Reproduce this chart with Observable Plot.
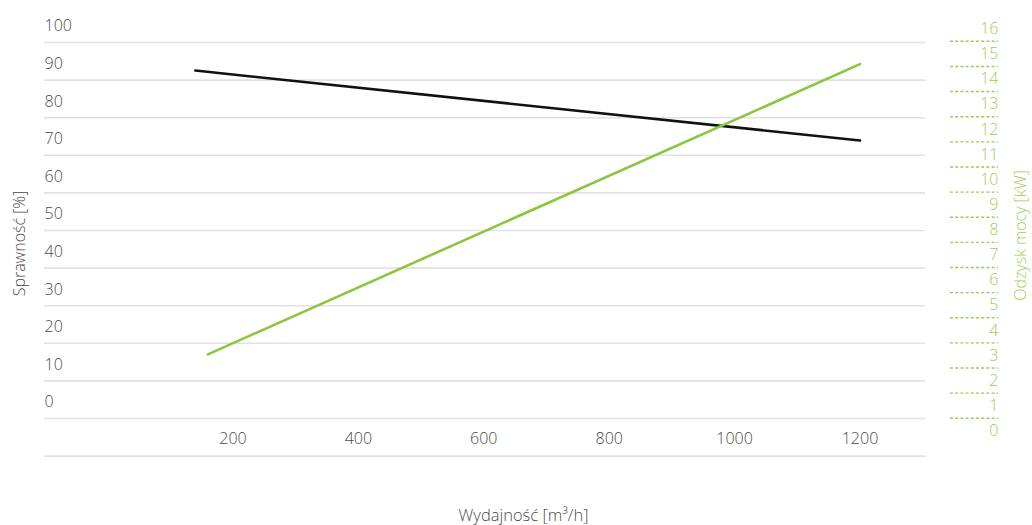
<!DOCTYPE html>
<html><head><meta charset="utf-8">
<script src="https://cdn.jsdelivr.net/npm/d3@7"></script>
<script src="https://cdn.jsdelivr.net/npm/@observablehq/plot@0.6"></script>
<style>html,body{margin:0;padding:0;background:#fff}</style>
</head><body><div id="chart"></div>
<script>
// Data
const flowEff = [140, 1200];          // Wydajność [m³/h] for efficiency line
const efficiency = [88.2, 69.6];      // Sprawność [%]
const flowPower = [160, 1200];        // Wydajność [m³/h] for power line
const power = [3.05, 14.6];           // Odzysk mocy [kW]
const xTicks = [200, 400, 600, 800, 1000, 1200];
const leftTicks = [0, 10, 20, 30, 40, 50, 60, 70, 80, 90, 100];
const rightTicks = [0, 1, 2, 3, 4, 5, 6, 7, 8, 9, 10, 11, 12, 13, 14, 15, 16];
const gridTicks = [-10, 0, 10, 20, 30, 40, 50, 60, 70, 80, 90, 100];

const GRAY = "#4a4a4a";
const GREEN_LINE = "#8cc63f";
const GREEN_TEXT = "#9fcc52";

// right axis (kW) expressed on the left (%) scale
const kw = d3.scaleLinear().domain([0, 16]).range([-7.66, 99.28]);

const effData = flowEff.map((x, i) => ({x, y: efficiency[i]}));
const powData = flowPower.map((x, i) => ({x, y: kw(power[i])}));

const chart = Plot.plot({
  width: 1032,
  height: 525,
  margin: 0,
  x: {domain: [0, 1200], range: [107.1, 859.5], axis: null},
  y: {domain: [0, 100], range: [401.7, 25.7], axis: null},
  style: {fontFamily: "'Open Sans', sans-serif", fontSize: "16px", fontWeight: 300, background: "#fff", color: GRAY},
  marks: [
    Plot.ruleY(gridTicks, {y: d => d, dy: 16.3, insetLeft: 44, insetRight: 107, stroke: "#e2e2e2", strokeWidth: 1.6}),
    Plot.ruleY(rightTicks.filter(k => k > 0), {y: k => kw(k), dy: 12.4, insetLeft: 950, insetRight: 34, stroke: GREEN_TEXT, strokeWidth: 1.4, strokeDasharray: "3,2.2"}),
    Plot.text(leftTicks, {y: d => d, text: d => String(d), frameAnchor: "left", dx: 44, textAnchor: "start", lineAnchor: "middle", fill: GRAY}),
    Plot.text(rightTicks, {y: k => kw(k), text: k => String(k), frameAnchor: "right", dx: -34, textAnchor: "end", lineAnchor: "middle", fill: GREEN_TEXT}),
    Plot.text(xTicks, {x: d => d, text: d => String(d), frameAnchor: "top", dy: 438, lineAnchor: "middle", fill: GRAY}),
    Plot.line(effData, {x: "x", y: "y", stroke: "#111", strokeWidth: 2.6}),
    Plot.line(powData, {x: "x", y: "y", stroke: GREEN_LINE, strokeWidth: 2.6}),
    Plot.text(["Sprawność [%]"], {frameAnchor: "left", dx: 19.5, dy: -19.5, rotate: -90, textAnchor: "middle", lineAnchor: "middle", fill: GRAY}),
    Plot.text(["Odzysk mocy [kW]"], {frameAnchor: "right", dx: -11.5, dy: -27.5, rotate: -90, textAnchor: "middle", lineAnchor: "middle", fill: GREEN_TEXT}),
    Plot.text(["Wydajność [m³/h]"], {frameAnchor: "bottom", dx: 7, dy: -10, textAnchor: "middle", lineAnchor: "middle", fontSize: 16.5, fill: GRAY})
  ]
});
document.getElementById("chart").appendChild(chart);
</script>
</body></html>
